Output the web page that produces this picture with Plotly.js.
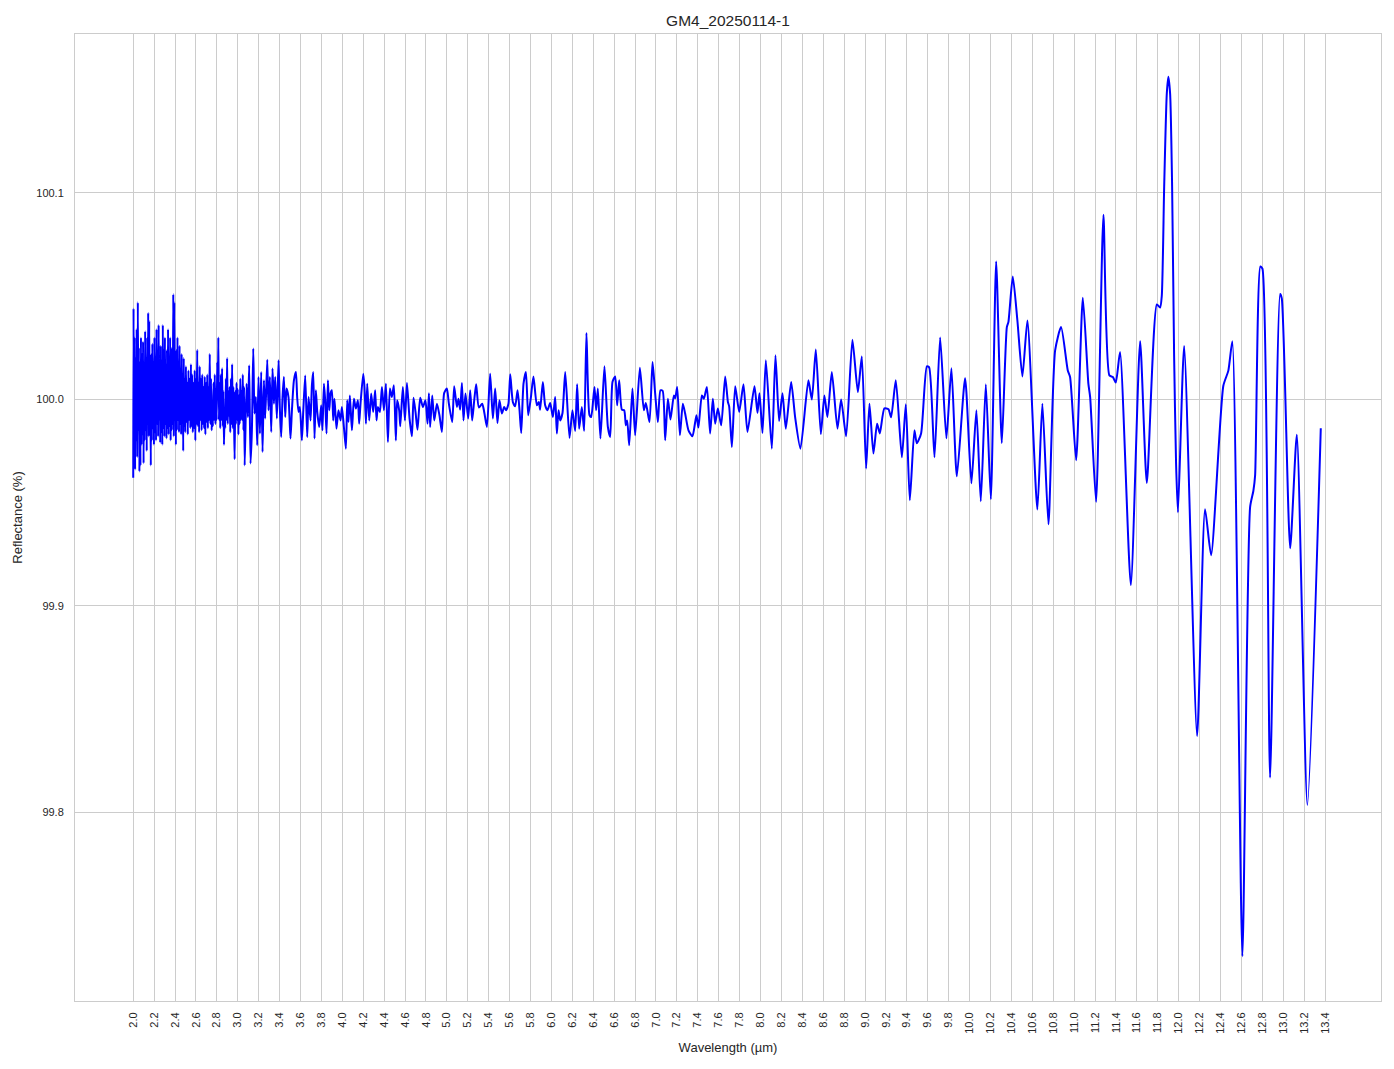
<!DOCTYPE html>
<html>
<head>
<meta charset="utf-8">
<script src="https://cdn.plot.ly/plotly-3.0.1.min.js"></script>
<style>html,body{margin:0;padding:0;background:#fff;}#chart{width:1394px;height:1069px;}</style>
</head>
<body>
<div id="chart"></div>
<script>
// ---- Data (wavelength in µm, reflectance in %) ----
const wlNoiseA = [2.000,2.003,2.008,2.013,2.018,2.023,2.028,2.033,2.038,2.044,2.049,2.054,2.059,2.064,2.069,2.074,2.079,2.084,2.089,2.094,2.099,2.104,2.109,2.114,2.119,2.124,2.129,2.134,2.139,2.143,2.148,2.153,2.158,2.163,2.168,2.173,2.178,2.183,2.188,2.193,2.198,2.203,2.208,2.213,2.218,2.223,2.228,2.233,2.238,2.243,2.248,2.253,2.258,2.263,2.268,2.273,2.278,2.283,2.288,2.293,2.298,2.303,2.308,2.313,2.318,2.323,2.328,2.333,2.338,2.343,2.348,2.353,2.358,2.363,2.368,2.373,2.378,2.383,2.388,2.393,2.398,2.403,2.408,2.413,2.418,2.423,2.428,2.433,2.438,2.443,2.448,2.453,2.458,2.463,2.468,2.473,2.478,2.483,2.488,2.493,2.498];
const rfNoiseA = [99.962,100.044,99.975,100.030,99.966,100.020,99.980,100.034,99.972,100.047,99.985,100.025,99.965,100.018,99.968,100.030,99.978,100.022,99.983,100.028,99.969,100.015,99.980,100.033,99.985,100.020,99.975,100.030,99.990,100.042,99.982,100.038,99.988,100.012,99.968,100.022,99.980,100.027,99.986,100.018,99.978,100.030,99.984,100.017,99.980,100.034,99.988,100.020,99.982,100.036,99.990,100.015,99.979,100.026,99.984,100.018,99.978,100.036,99.986,100.024,99.982,100.030,99.988,100.016,99.981,100.024,99.986,100.034,99.983,100.020,99.987,100.030,99.980,100.025,99.985,100.018,99.988,100.051,99.982,100.047,99.990,100.015,99.978,100.024,99.985,100.030,99.990,100.018,99.984,100.026,99.988,100.014,99.983,100.022,99.990,100.012,99.975,100.020,99.987,100.010,99.984];

const wlNoiseB = [2.504,2.510,2.516,2.522,2.528,2.534,2.540,2.546,2.552,2.558,2.564,2.570,2.576,2.582,2.588,2.594,2.600,2.606,2.612,2.618,2.624,2.630,2.636,2.642,2.648,2.654,2.660,2.666,2.672,2.678,2.684,2.690,2.696,2.702,2.708,2.714,2.720,2.726,2.732,2.738,2.744,2.750,2.756,2.762,2.768,2.774,2.780,2.786,2.792,2.798,2.804,2.810,2.814,2.820,2.826,2.832,2.838,2.844,2.850,2.856,2.862,2.868,2.874,2.880,2.886,2.892,2.898,2.904,2.910,2.916,2.922,2.928,2.934,2.940,2.946,2.952,2.958,2.964,2.970,2.976,2.982,2.988,2.994,3.000,3.006,3.012,3.018,3.024,3.030,3.036,3.042,3.048,3.054,3.060,3.066];
const rfNoiseB = [100.016,99.989,100.008,99.983,100.014,99.990,100.010,99.986,100.017,99.987,100.012,99.984,100.008,99.986,100.014,99.980,100.010,99.988,100.024,99.987,100.008,99.984,100.016,99.990,100.010,99.985,100.012,99.988,100.006,99.986,100.011,99.983,100.008,99.989,100.012,99.986,100.006,99.990,100.022,99.988,100.010,99.985,99.995,99.987,100.008,99.990,100.012,99.988,100.005,99.990,100.018,100.000,100.030,99.990,100.008,99.986,100.012,99.990,100.015,99.987,100.004,99.978,99.995,99.986,100.010,99.990,100.020,99.988,100.004,99.992,100.006,99.984,100.010,99.988,100.017,99.986,100.006,99.990,99.971,100.004,99.988,100.008,99.990,100.005,99.983,100.002,99.988,100.010,99.990,100.004,99.990,100.012,99.985,100.006,99.968];

const wlMidA = [3.084,3.097,3.109,3.122,3.135,3.148,3.160,3.173,3.186,3.198,3.212,3.224,3.237,3.250,3.262,3.282,3.294,3.307,3.320,3.332,3.346,3.358,3.374,3.390,3.403,3.415,3.428,3.441,3.454,3.466,3.485,3.504,3.518,3.537,3.556,3.568,3.581,3.594,3.613,3.626,3.645,3.664,3.677,3.696,3.709,3.722,3.734,3.747,3.760,3.779,3.798,3.810,3.824,3.836,3.849,3.862,3.875,3.887,3.900,3.913,3.925,3.944,3.963,3.983,3.996,4.015,4.034,4.047,4.059,4.072,4.092,4.111,4.130,4.149,4.161,4.174,4.200,4.212,4.226,4.238,4.257,4.276,4.295,4.314,4.327,4.340,4.359,4.379,4.398,4.417,4.436,4.455,4.474,4.493,4.512,4.524,4.544];
const rfMidA = [100.0076,99.9914,100.0165,99.9689,99.9850,100.0246,99.9931,100.0011,99.9777,100.0108,99.9834,100.0132,99.9745,100.0092,99.9907,100.0192,99.9947,100.0108,99.9842,100.0149,99.9979,100.0108,99.9907,100.0189,99.9947,99.9817,100.0011,100.0108,99.9914,100.0052,100.0011,99.9810,99.9947,100.0092,100.0132,100.0011,99.9939,99.9963,99.9801,99.9939,100.0116,99.9817,100.0011,99.9898,100.0068,100.0132,99.9810,100.0044,99.9939,99.9866,99.9971,99.9850,100.0076,99.9995,99.9834,100.0092,99.9947,100.0028,100.0044,99.9898,100.0003,99.9858,99.9947,99.9898,99.9963,99.9866,99.9761,99.9995,99.9890,100.0019,99.9850,100.0003,99.9955,99.9995,99.9882,99.9979,100.0124,100.0060,99.9882,100.0076,99.9898,100.0028,99.9939,100.0044,99.9898,99.9963,99.9939,100.0060,99.9947,100.0076,99.9793,100.0052,100.0011,100.0068,99.9801,99.9995,99.9947];

const wlMidB = [4.554,4.579,4.599,4.618,4.643,4.666,4.681,4.700,4.719,4.745,4.771,4.795,4.815,4.828,4.840,4.860,4.879,4.905,4.929,4.952,4.974,5.000,5.019,5.051,5.070,5.096,5.111,5.127,5.144,5.159,5.178,5.204,5.223,5.242,5.261,5.280,5.306,5.338,5.357,5.383,5.414,5.440,5.462,5.484,5.503,5.526,5.548,5.567,5.589,5.606,5.631,5.653,5.676,5.695,5.711,5.733,5.756,5.778,5.804,5.828,5.861,5.880,5.892,5.918,5.940,5.962,5.988,6.014];
const rfMidB = [99.9869,100.0060,99.9898,100.0079,99.9907,99.9821,100.0008,99.9939,99.9853,100.0008,99.9963,99.9995,99.9882,100.0030,99.9866,100.0019,99.9898,99.9979,99.9923,99.9842,100.0030,100.0052,99.9979,99.9890,100.0063,99.9963,100.0003,99.9950,100.0079,99.9898,100.0028,99.9907,100.0044,99.9898,99.9992,100.0073,99.9960,99.9979,99.9939,99.9866,100.0124,99.9907,100.0052,99.9885,99.9995,99.9931,99.9963,99.9947,99.9979,100.0121,99.9987,99.9966,100.0044,99.9947,99.9837,100.0076,100.0132,99.9923,100.0011,100.0111,99.9971,99.9987,99.9950,100.0084,99.9971,99.9947,99.9982,99.9914];

const wlMidC = [6.036,6.052,6.068,6.084,6.106,6.132,6.173,6.201,6.227,6.246,6.265,6.291,6.313,6.335,6.364,6.380,6.412,6.428,6.444,6.469,6.507,6.540,6.562,6.584,6.610,6.629,6.648,6.674,6.696,6.712,6.725,6.744,6.775,6.801,6.846,6.884,6.903,6.938,6.967,6.992,7.018,7.043,7.064,7.088,7.114,7.139,7.171,7.184,7.203,7.229,7.257,7.279,7.311,7.349,7.387,7.406,7.439,7.458,7.487,7.518,7.544];
const rfMidC = [100.0011,99.9834,99.9947,99.9898,99.9934,100.0132,99.9813,99.9947,99.9847,100.0073,99.9858,99.9963,99.9847,100.0321,99.9923,99.9914,100.0060,99.9947,100.0052,99.9810,100.0160,99.9866,99.9818,100.0084,100.0111,99.9971,100.0092,99.9950,99.9947,99.9874,99.9898,99.9777,100.0052,99.9826,100.0153,99.9947,99.9982,99.9890,100.0181,100.0030,99.9890,100.0044,100.0041,99.9802,100.0003,99.9902,100.0019,100.0005,100.0060,99.9826,99.9979,99.9931,99.9850,99.9821,99.9923,99.9863,100.0019,100.0003,100.0060,99.9834,100.0003];

const wlMidD = [7.566,7.592,7.624,7.662,7.688,7.700,7.726,7.758,7.796,7.837,7.875,7.942,7.971,7.990,8.019,8.051,8.108,8.143,8.178,8.210,8.242,8.293,8.331,8.382,8.458,8.491,8.529,8.577,8.611,8.640,8.682,8.736,8.771,8.819,8.879,8.931,8.969,9.010,9.042,9.080,9.115];
const rfMidD = [99.9882,99.9955,99.9874,100.0111,99.9987,99.9966,99.9769,100.0063,99.9939,100.0073,99.9842,100.0063,99.9934,100.0030,99.9837,100.0189,99.9761,100.0213,99.9895,100.0030,99.9858,100.0084,99.9914,99.9761,100.0092,99.9999,100.0241,99.9831,100.0019,99.9914,100.0132,99.9858,99.9999,99.9821,100.0289,100.0035,100.0208,99.9665,99.9979,99.9737,99.9882];

const wlLongA = [9.141,9.185,9.224,9.249,9.294,9.352,9.390,9.428,9.472,9.495,9.536,9.591,9.613,9.664,9.718,9.778,9.826,9.878,9.957,10.017,10.065,10.107,10.155,10.203];
const rfLongA = [99.9835,99.9956,99.9952,99.9913,100.0092,99.9719,99.9976,99.9511,99.9850,99.9787,99.9835,100.0160,100.0155,99.9719,100.0300,99.9811,100.0150,99.9627,100.0102,99.9593,99.9947,99.9506,100.0073,99.9516];

const wlLongB = [10.254,10.308,10.356,10.371,10.413,10.457,10.505,10.553,10.648,10.696,10.754,10.818,10.875,10.939,10.961,11.019,11.083,11.136,11.153,11.210];
const rfLongB = [100.0668,99.9788,100.0350,100.0374,100.0595,100.0382,100.0111,100.0382,99.9466,99.9979,99.9395,100.0237,100.0350,100.0140,100.0108,99.9705,100.0492,100.0076,100.0011,99.9503];

const wlLongC = [11.280,11.337,11.370,11.398,11.439,11.542,11.631,11.695,11.791,11.822,11.838,11.861,11.886,11.901,11.918,11.937,11.956,11.975,11.993,12.052,12.176];
const rfLongC = [100.0894,100.0116,100.0108,100.0081,100.0229,99.9100,100.0282,99.9595,100.0460,100.0445,100.0500,100.1030,100.1480,100.1563,100.1480,100.1030,100.0215,99.9685,99.9453,100.0259,99.8369];

const wlLongD = [12.252,12.310,12.427,12.475,12.513,12.609,12.683,12.714,12.731,12.781,12.801,12.874,12.970,12.986,13.066,13.130,13.231,13.359];
const rfLongD = [99.9468,99.9245,100.0066,100.0139,100.0282,99.7302,99.9478,99.9556,99.9633,100.0644,100.0633,99.8168,100.0510,100.0489,99.9279,99.9829,99.8035,99.9860];

const xTickVals = [2.0,2.2,2.4,2.6,2.8,3.0,3.2,3.4,3.6,3.8,4.0,4.2,4.4,4.6,4.8,5.0,5.2,5.4,5.6,5.8,6.0,6.2,6.4,6.6,6.8,7.0,7.2,7.4,7.6,7.8,8.0,8.2,8.4,8.6,8.8,9.0,9.2,9.4,9.6,9.8,10.0,10.2,10.4,10.6,10.8,11.0,11.2,11.4,11.6,11.8,12.0,12.2,12.4,12.6,12.8,13.0,13.2,13.4];
const yTickVals = [99.8,99.9,100.0,100.1];

const chartTitle = "GM4_20250114-1";
const xLabel = "Wavelength (µm)";
const yLabel = "Reflectance (%)";

// ---- Build the trace ----
const wlSegs = [wlNoiseA, wlNoiseB, wlMidA, wlMidB, wlMidC, wlMidD, wlLongA, wlLongB, wlLongC, wlLongD];
const rfSegs = [rfNoiseA, rfNoiseB, rfMidA, rfMidB, rfMidC, rfMidD, rfLongA, rfLongB, rfLongC, rfLongD];
const wavelength = [], reflectance = [];
wlSegs.forEach((seg, i) => {
  const n = Math.min(seg.length, rfSegs[i].length);
  if (seg.length !== rfSegs[i].length) console.warn('length mismatch in segment', i, seg.length, rfSegs[i].length);
  for (let k = 0; k < n; k++) { wavelength.push(seg[k]); reflectance.push(rfSegs[i][k]); }
});

const fontFam = '"Liberation Sans", Arial, Helvetica, sans-serif';
const textCol = '#262626';
const gridCol = '#cccccc';

const trace = {
  x: wavelength, y: reflectance,
  type: 'scatter', mode: 'lines',
  line: {color: '#0000ff', width: 2, shape: 'spline', smoothing: 0.6},
  hoverinfo: 'x+y'
};

const layout = {
  width: 1394, height: 1069,
  margin: {l: 75, r: 13, t: 34, b: 68, pad: 0},
  paper_bgcolor: '#ffffff', plot_bgcolor: '#ffffff',
  showlegend: false,
  font: {family: fontFam, color: textCol, size: 11},
  title: {text: chartTitle, font: {family: fontFam, size: 15.5, color: textCol},
          x: 0.5, xref: 'paper', y: 1 - 21/1069, yref: 'container', yanchor: 'middle', xanchor: 'center'},
  xaxis: {
    range: [1.443, 13.935], autorange: false,
    tickmode: 'array', tickvals: xTickVals, ticktext: xTickVals.map(v => v.toFixed(1)),
    tickangle: -90, ticks: '', ticklabelstandoff: 6,
    tickfont: {family: fontFam, size: 11, color: textCol},
    showgrid: true, gridcolor: gridCol, gridwidth: 1,
    zeroline: false, showline: true, linecolor: gridCol, linewidth: 1, mirror: true,
    title: {text: xLabel, font: {family: fontFam, size: 13, color: textCol}, standoff: 10}
  },
  yaxis: {
    range: [99.7085, 100.177], autorange: false,
    tickmode: 'array', tickvals: yTickVals, ticktext: yTickVals.map(v => v.toFixed(1)),
    ticks: '', ticklabelstandoff: 8,
    tickfont: {family: fontFam, size: 11, color: textCol},
    showgrid: true, gridcolor: gridCol, gridwidth: 1,
    zeroline: false, showline: true, linecolor: gridCol, linewidth: 1, mirror: true,
    title: {text: yLabel, font: {family: fontFam, size: 13, color: textCol}, standoff: 10}
  }
};

Plotly.newPlot('chart', [trace], layout, {displayModeBar: false, staticPlot: true});
</script>
</body>
</html>
